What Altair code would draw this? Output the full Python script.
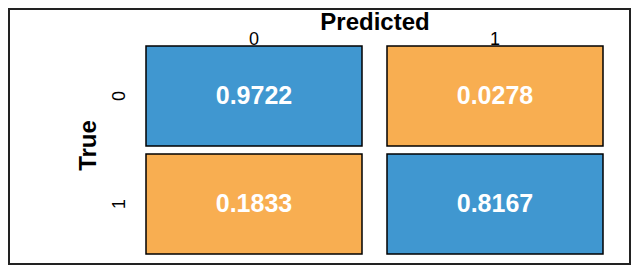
import altair as alt
import pandas as pd

true_labels = ["0", "0", "1", "1"]
pred_labels = ["0", "1", "0", "1"]
values = [0.9722, 0.0278, 0.1833, 0.8167]
kinds = ["correct", "error", "error", "correct"]

BLUE = "#4097D0"
ORANGE = "#F8AE51"
FONT = "Liberation Sans"

df = pd.DataFrame({"True": true_labels, "Predicted": pred_labels,
                   "value": values, "kind": kinds})

W, H = 457, 208

base = alt.Chart(df).encode(
    x=alt.X("Predicted:N", sort=["0", "1"],
            scale=alt.Scale(paddingInner=25 / 241, paddingOuter=0),
            axis=alt.Axis(orient="top", title="Predicted", labelAngle=0,
                          labelBaseline="alphabetic", labelPadding=2,
                          titleX=W / 2, titleY=-17, titleAlign="center",
                          titleBaseline="alphabetic")),
    y=alt.Y("True:N", sort=["0", "1"],
            scale=alt.Scale(paddingInner=8 / 108, paddingOuter=0),
            axis=alt.Axis(orient="left", title="True", labelAngle=270,
                          labelAlign="center", labelBaseline="alphabetic",
                          labelPadding=22, titleAngle=270, titleX=-51,
                          titleY=99, titleAlign="center",
                          titleBaseline="alphabetic")),
)

rect = base.mark_rect(stroke="black", strokeWidth=1.5).encode(
    color=alt.Color("kind:N", scale=alt.Scale(domain=["correct", "error"],
                                              range=[BLUE, ORANGE]),
                    legend=None)
)

text = base.mark_text(font=FONT, fontSize=25, fontWeight="bold",
                      color="white").encode(
    text=alt.Text("value:Q", format=".4f")
)

frame = alt.Chart(pd.DataFrame({"f": [0]})).mark_rect(
    fillOpacity=0, stroke="#222222", strokeWidth=2
).encode(
    x=alt.value(-137), x2=alt.value(484),
    y=alt.value(-37), y2=alt.value(218)
)

chart = alt.layer(frame, rect, text).properties(
    width=W, height=H,
    autosize=alt.AutoSizeParams(type="none"),
    padding={"left": 138, "top": 38, "right": 29, "bottom": 11},
).configure_view(stroke=None).configure_axis(
    domain=False, ticks=False, grid=False,
    labelFont=FONT, labelFontSize=18, labelColor="black",
    titleFont=FONT, titleFontSize=24, titleFontWeight="bold",
    titleColor="black",
)

chart.save("out.html", embed_options={"renderer": "svg", "actions": False})
